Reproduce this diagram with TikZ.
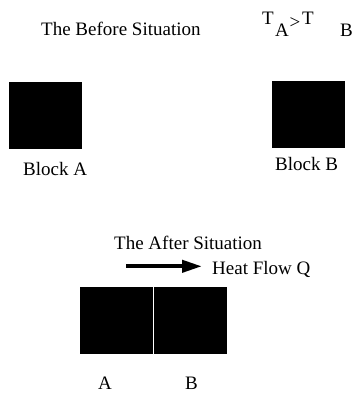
\documentclass[tikz,border=0pt]{standalone}
\usepackage{fontspec}
\setmainfont{Liberation Serif}
\usetikzlibrary{arrows.meta}
\tikzset{
  lbl/.style={inner sep=0pt, anchor=base west, font=\fontsize{19}{22}\selectfont},
  blk/.style={fill=black, draw=none, inner sep=0pt, minimum width=73pt, minimum height=67pt},
  flow/.style={line width=4pt, -{Triangle[length=20pt, width=12pt]}}
}
\begin{document}
\begin{tikzpicture}[x=1pt, y=-1pt]
  \useasboundingbox (0,0) rectangle (353,394);

  % before: two separate blocks
  \node[lbl] (before) at (41,35) {The Before Situation};
  \node[lbl] (t1) at (262,24) {T};
  \node[lbl] (sa) at (275,36) {A};
  \node[inner sep=0pt, font=\fontsize{19}{22}\selectfont] (gt) at (295,23) {>};
  \node[lbl] (t2) at (302,24) {T};
  \node[lbl] (sb) at (340,36) {B};

  \node[blk] (blockA) at (45.5,115.5) {};
  \node[blk] (blockB) at (308.5,114.5) {};
  \node[lbl] (labA) at (23,175) {Block A};
  \node[lbl] (labB) at (275,170.5) {Block B};

  % after: blocks in contact, heat flowing from A to B
  \node[lbl] (after) at (114,249) {The After Situation};
  \coordinate (fs) at (126,266.3);
  \coordinate (fe) at (202,266.3);
  \draw[flow] (fs) -- (fe);
  \node[lbl] (heat) at (212,274) {Heat Flow Q};

  \node[blk] (contactA) at (116.5,320.5) {};
  \node[blk] (contactB) at (190.5,320.5) {};
  \node[lbl] (labA2) at (98,389) {A};
  \node[lbl] (labB2) at (185,389) {B};
\end{tikzpicture}
\end{document}
